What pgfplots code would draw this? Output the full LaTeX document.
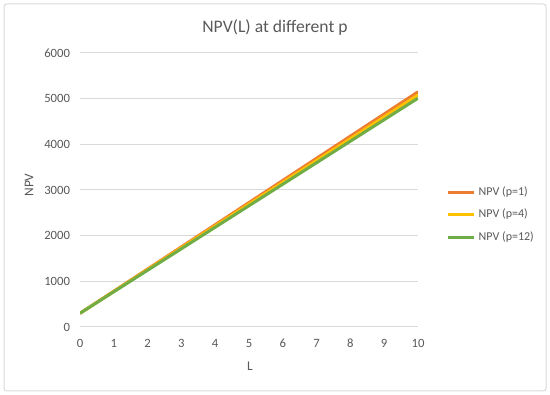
\documentclass[border=0pt]{standalone}
\usepackage{pgfplots}
\pgfplotsset{compat=1.18}
\usepackage{fontspec}
\setmainfont{Carlito}
\definecolor{txt}{HTML}{595959}
\definecolor{gridc}{HTML}{D9D9D9}
\definecolor{c1}{HTML}{ED7D31}
\definecolor{c2}{HTML}{FFC000}
\definecolor{c3}{HTML}{70AD47}
\begin{document}
\begin{tikzpicture}
\path (0pt,0pt) rectangle (412.5pt,296.25pt);
\draw[gridc, line width=0.75pt, rounded corners=2pt] (3pt,3pt) rectangle (409.5pt,293.25pt);
\begin{axis}[
  at={(60pt,51pt)}, anchor=south west,
  scale only axis, width=253.5pt, height=205.5pt,
  xmin=0, xmax=10, ymin=0, ymax=6000,
  xtick={0,1,...,10}, ytick={0,1000,...,6000},
  axis line style={draw=none},
  major tick length=0pt,
  ymajorgrids, grid style={gridc, line width=0.75pt},
  /pgf/number format/assume math mode=true,
  /pgf/number format/set thousands separator={},
  ticklabel style={font=\fontsize{9.5}{11}\selectfont, text=txt},
  xticklabel style={yshift=-5.5pt},
  yticklabel style={xshift=-4pt},
  legend style={draw=none, fill=none, at={(1.083,0.409)}, anchor=west,
    inner sep=0pt, outer sep=0pt,
    font=\fontsize{9}{11}\selectfont, text=txt, row sep=8.25pt,
    nodes={inner sep=0pt, text height=6.5pt, text depth=2pt},
    column sep=2.25pt,
    cells={anchor=west}},
  legend image code/.code={\draw[#1, line width=2.25pt] (0pt,0pt) -- (20pt,0pt);},
]
\addplot[c1, line width=2.25pt] coordinates {(0,300) (1,785) (2,1270) (3,1755) (4,2240) (5,2725) (6,3210) (7,3695) (8,4180) (9,4665) (10,5150)};
\addplot[c2, line width=2.25pt] coordinates {(0,300) (1,778) (2,1256) (3,1734) (4,2212) (5,2690) (6,3168) (7,3646) (8,4124) (9,4602) (10,5080)};
\addplot[c3, line width=2.25pt] coordinates {(0,300) (1,771) (2,1242) (3,1713) (4,2184) (5,2655) (6,3126) (7,3597) (8,4068) (9,4539) (10,5010)};
\legend{NPV (p=1), NPV (p=4), NPV (p=12)}
\end{axis}
\node[text=txt, font=\fontsize{13.2}{16}\selectfont, anchor=base] at (206.25pt,271.5pt) {NPV(L) at different p};
\node[text=txt, font=\fontsize{10}{12}\selectfont] at (187.5pt,21.75pt) {L};
\node[text=txt, font=\fontsize{10}{12}\selectfont, rotate=90] at (21.75pt,157.5pt) {NPV};
\end{tikzpicture}
\end{document}
